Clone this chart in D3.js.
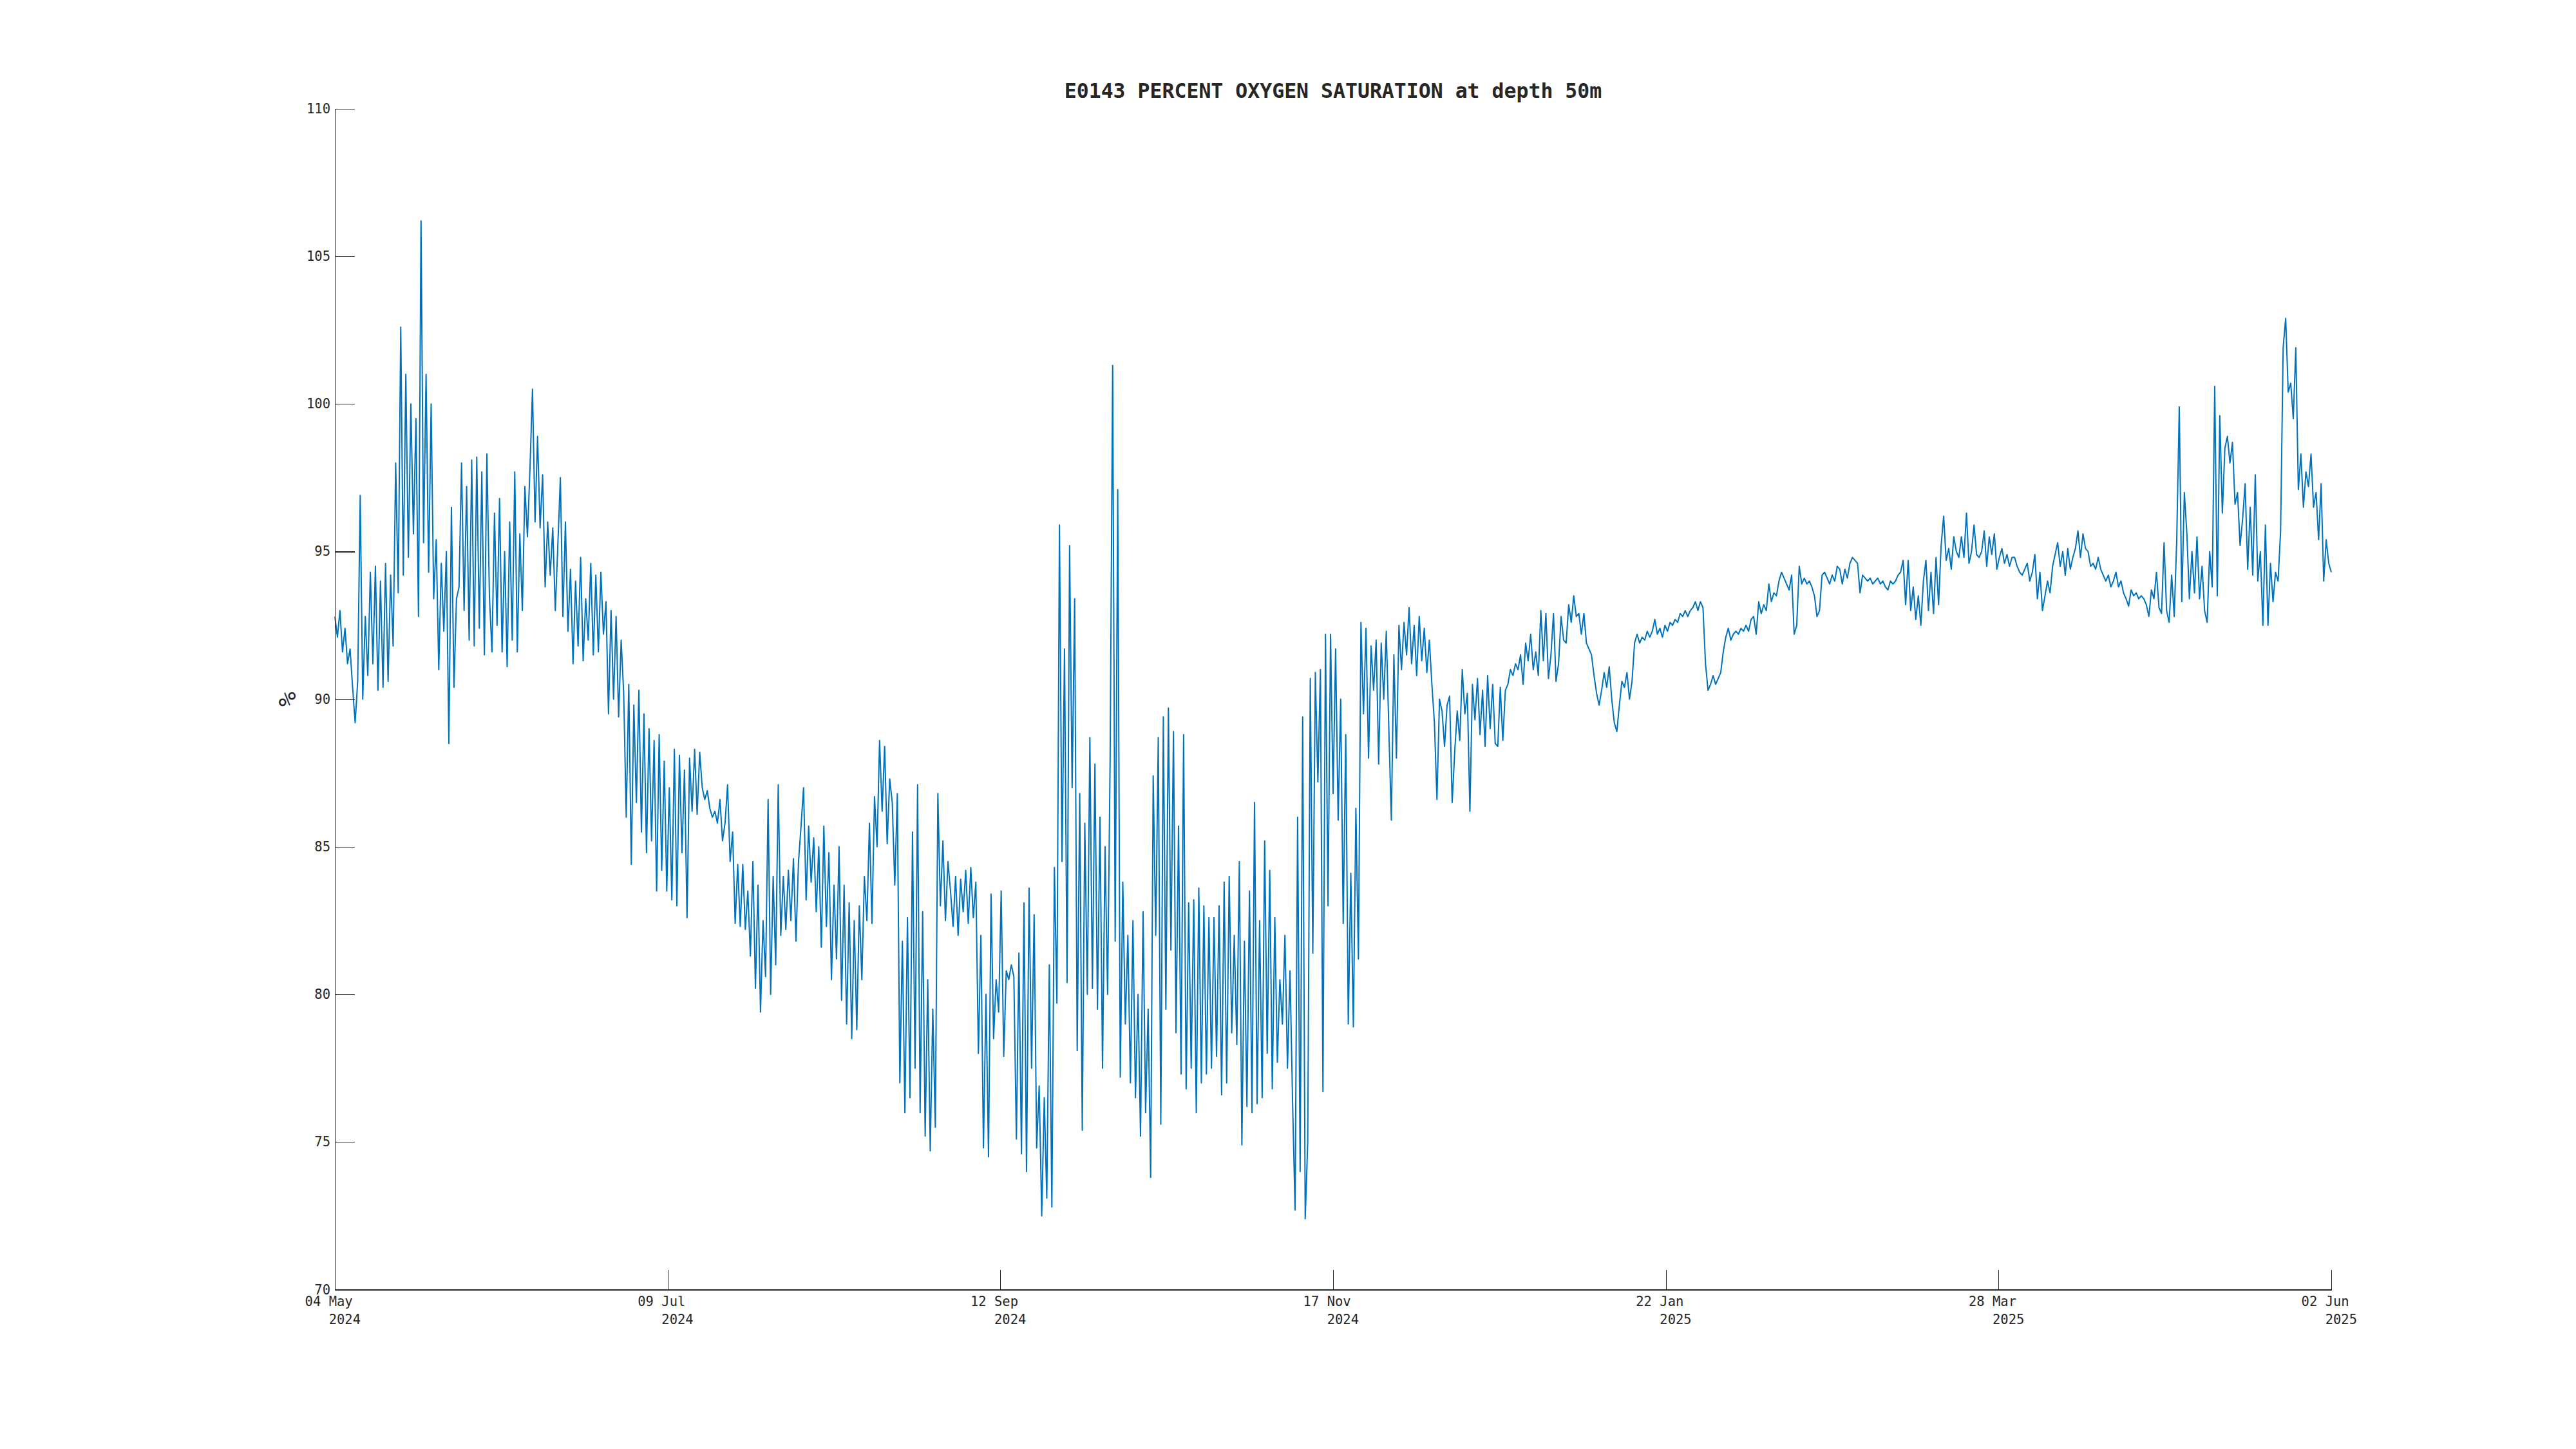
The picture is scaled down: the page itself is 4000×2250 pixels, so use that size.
<!DOCTYPE html>
<html>
<head>
<meta charset="utf-8">
<script src="https://cdn.jsdelivr.net/npm/d3@7"></script>
<style>
  html, body { margin: 0; padding: 0; background: #fff; }
  svg { display: block; }
  text { font-family: "DejaVu Sans Mono", monospace; fill: #262626; }
</style>
</head>
<body>
<div id="chart"></div>
<script>
// percent oxygen saturation, two readings a day (00:00 and 12:00 UTC)
// each array starts at the first reading of its month
const sat2024May = [
  92.8, 92.1, 93.0, 91.6, 92.4, 91.2, 91.7, 90.4, 89.2, 90.6,
  96.9, 90.0, 92.8, 90.8, 94.3, 91.2, 94.5, 90.3, 94.0, 90.4,
  94.6, 90.6, 94.2, 91.8, 98.0, 93.6, 102.6, 94.2, 101.0, 94.8,
  100.0, 95.6, 99.5, 92.8, 106.2, 95.3, 101.0, 94.3, 100.0, 93.4,
  95.4, 91.0, 94.6, 92.3, 95.0, 88.5, 96.5, 90.4, 93.4, 93.8,
  98.0, 93.0, 97.2, 92.0, 98.1];
const sat2024Jun = [
  91.8, 98.2, 92.4, 97.7, 91.5, 98.3, 93.5, 91.6, 96.3, 92.5,
  96.8, 91.6, 95.0, 91.1, 96.0, 92.0, 97.7, 91.6, 95.6, 93.0,
  97.2, 95.5, 97.8, 100.5, 96.0, 98.9, 95.8, 97.6, 93.8, 96.0,
  94.2, 95.8, 93.0, 95.2, 97.5, 92.8, 96.0, 92.3, 94.4, 91.2,
  94.0, 91.8, 94.8, 91.3, 93.4, 92.0, 94.6, 91.5, 94.2, 91.6,
  94.3, 92.2, 93.3, 89.5, 93.0, 90.0, 92.8, 89.4, 92.0, 90.2];
const sat2024Jul = [
  86.0, 90.5, 84.4, 89.8, 86.5, 90.3, 85.5, 89.5, 84.8, 89.0,
  85.2, 88.6, 83.5, 88.8, 84.2, 87.9, 83.5, 87.0, 83.2, 88.3,
  83.0, 88.1, 84.8, 87.6, 82.6, 88.0, 86.2, 88.3, 86.1, 88.2,
  87.0, 86.6, 86.9, 86.3, 86.0, 86.2, 85.8, 86.6, 85.2, 85.8,
  87.1, 84.5, 85.5, 82.4, 84.4, 82.3, 84.4, 82.2, 83.5, 81.3,
  84.5, 80.2, 83.7, 79.4, 82.5, 80.6, 86.6, 80.0, 84.0, 81.0,
  87.1, 82.0];
const sat2024Aug = [
  84.0, 82.2, 84.2, 82.5, 84.6, 81.8, 84.5, 85.7, 87.0, 83.2,
  85.7, 83.8, 85.3, 82.8, 85.0, 81.6, 85.7, 82.3, 84.8, 80.5,
  83.7, 81.2, 85.0, 79.8, 83.7, 79.0, 83.1, 78.5, 82.5, 78.8,
  83.0, 80.5, 84.0, 82.5, 85.8, 82.4, 86.7, 85.0, 88.6, 86.2,
  88.4, 85.1, 87.3, 86.5, 83.7, 86.8, 77.0, 81.8, 76.0, 82.6,
  76.5, 85.5, 77.5, 87.1, 76.0, 82.8, 75.2, 80.5, 74.7, 79.5,
  75.5, 86.8];
const sat2024Sep = [
  83.0, 85.2, 82.5, 84.5, 83.5, 82.3, 84.0, 82.0, 83.9, 82.8,
  84.2, 82.4, 84.3, 82.6, 83.8, 78.0, 82.0, 74.8, 80.0, 74.5,
  83.4, 78.5, 80.5, 79.4, 83.5, 77.9, 80.8, 80.5, 81.0, 80.6,
  75.1, 81.4, 74.6, 83.1, 74.0, 83.6, 77.5, 82.7, 74.8, 76.9,
  72.5, 76.5, 73.1, 81.0, 72.8, 84.3, 79.7, 95.9, 84.5, 91.7,
  80.4, 95.2, 87.0, 93.4, 78.1, 86.8, 75.4, 85.8, 80.0, 88.7];
const sat2024Oct = [
  80.2, 87.8, 79.5, 86.0, 77.5, 85.0, 80.0, 88.0, 101.3, 81.8,
  97.1, 77.2, 83.8, 79.0, 82.0, 77.0, 82.5, 76.5, 80.0, 75.2,
  82.8, 76.0, 79.5, 73.8, 87.4, 82.0, 88.7, 75.6, 89.4, 79.5,
  89.7, 81.5, 88.9, 78.7, 85.7, 77.3, 88.8, 76.8, 83.1, 77.5,
  83.2, 76.0, 83.6, 77.0, 83.0, 77.3, 82.6, 77.5, 82.6, 77.9,
  83.0, 76.6, 83.8, 77.0, 84.0, 78.7, 82.0, 78.3, 84.5, 74.9,
  81.8, 76.2];
const sat2024Nov = [
  83.5, 76.0, 86.5, 76.3, 82.5, 76.5, 85.2, 78.0, 84.2, 76.8,
  82.6, 77.7, 80.5, 79.0, 82.0, 77.5, 80.8, 76.4, 72.7, 86.0,
  74.0, 89.4, 72.4, 75.0, 90.7, 81.4, 90.9, 87.2, 91.0, 76.7,
  92.2, 83.0, 92.2, 86.8, 91.7, 85.9, 90.0, 82.4, 88.8, 79.0,
  84.1, 78.9, 86.3, 81.2, 92.6, 89.5, 92.4, 88.0, 91.8, 90.3,
  92.0, 87.8, 91.9, 90.0, 92.3, 89.0, 85.9, 91.5, 88.0, 92.5];
const sat2024Dec = [
  91.0, 92.6, 91.5, 93.1, 91.2, 92.5, 90.8, 92.8, 91.3, 92.4,
  90.9, 92.0, 90.5, 89.2, 86.6, 90.0, 89.6, 88.4, 89.8, 90.1,
  86.5, 88.2, 89.6, 88.6, 91.0, 89.5, 90.2, 86.2, 90.5, 89.3,
  90.7, 88.8, 90.3, 88.4, 90.8, 89.0, 90.5, 88.5, 88.4, 90.4,
  88.6, 90.3, 90.5, 91.0, 90.8, 91.2, 91.0, 91.5, 90.5, 91.9,
  91.3, 92.2, 91.0, 91.6, 90.8, 93.0, 91.3, 92.9, 90.7, 91.5,
  92.9, 90.6];
const sat2025Jan = [
  91.2, 92.8, 92.0, 91.9, 93.2, 92.6, 93.5, 92.8, 92.9, 92.2,
  92.9, 91.9, 91.7, 91.5, 90.8, 90.2, 89.8, 90.3, 90.9, 90.4,
  91.1, 90.0, 89.2, 88.9, 89.8, 90.6, 90.4, 90.9, 90.0, 90.6,
  91.9, 92.2, 91.9, 92.1, 92.0, 92.3, 92.1, 92.3, 92.7, 92.2,
  92.4, 92.1, 92.5, 92.3, 92.6, 92.5, 92.7, 92.6, 92.9, 92.8,
  93.0, 92.8, 93.0, 93.1, 93.3, 93.0, 93.3, 93.1, 91.2, 90.3,
  90.5, 90.8];
const sat2025Feb = [
  90.5, 90.7, 90.9, 91.6, 92.1, 92.4, 92.0, 92.2, 92.3, 92.2,
  92.4, 92.3, 92.5, 92.3, 92.7, 92.8, 92.2, 93.3, 92.9, 93.2,
  93.0, 93.9, 93.3, 93.6, 93.5, 94.0, 94.3, 94.1, 93.9, 93.7,
  94.2, 92.2, 92.5, 94.5, 93.9, 94.1, 93.9, 94.0, 93.8, 93.5,
  92.8, 93.0, 94.2, 94.3, 94.1, 93.9, 94.2, 94.0, 94.5, 94.4,
  93.9, 94.4, 94.1, 94.6, 94.8, 94.7];
const sat2025Mar = [
  94.6, 93.6, 94.2, 94.1, 94.0, 94.1, 93.9, 94.0, 94.1, 93.9,
  94.0, 93.8, 93.7, 94.0, 93.9, 94.0, 94.2, 94.3, 94.7, 93.2,
  94.7, 93.0, 93.8, 92.7, 93.5, 92.5, 94.0, 94.7, 93.0, 94.3,
  92.9, 94.8, 93.2, 95.2, 96.2, 94.7, 95.1, 94.4, 95.5, 95.0,
  94.8, 95.5, 94.8, 96.3, 94.6, 95.0, 95.9, 94.9, 94.8, 95.0,
  95.7, 94.5, 95.5, 94.9, 95.6, 94.4, 94.8, 95.1, 94.6, 94.9,
  94.5, 94.8];
const sat2025Apr = [
  94.8, 94.5, 94.3, 94.2, 94.4, 94.6, 94.0, 94.3, 94.9, 93.4,
  94.3, 93.0, 93.5, 94.0, 93.6, 94.5, 94.9, 95.3, 94.5, 95.0,
  94.2, 95.1, 94.4, 94.8, 95.1, 95.7, 94.8, 95.6, 95.1, 95.0,
  94.5, 94.6, 94.4, 94.8, 94.4, 94.2, 94.0, 94.2, 93.8, 94.0,
  94.3, 93.8, 94.0, 93.6, 93.4, 93.15, 93.7, 93.5, 93.6, 93.4,
  93.5, 93.4, 93.2, 92.8, 93.7, 93.4, 94.3, 93.1, 92.9, 95.3];
const sat2025May = [
  93.0, 92.6, 94.2, 92.8, 95.4, 99.9, 93.3, 97.0, 95.6, 93.4,
  95.0, 93.6, 95.5, 93.4, 94.5, 93.0, 92.6, 95.0, 93.8, 100.6,
  93.5, 99.6, 96.3, 98.5, 98.9, 98.0, 98.7, 96.6, 97.0, 95.2,
  96.1, 97.3, 94.4, 96.5, 94.2, 97.6, 94.0, 95.0, 92.5, 95.9,
  92.5, 94.6, 93.3, 94.3, 94.0, 95.7, 101.9, 102.9, 100.4, 100.7,
  99.5, 101.9, 97.1, 98.3, 96.5, 97.7, 97.2, 98.3, 96.5, 97.0,
  95.4, 97.3];
const sat2025Jun = [94.0, 95.4, 94.6, 94.3];

const monthStarts = [
  "2024-05-04T12:00Z", "2024-06-01T00:00Z", "2024-07-01T00:00Z", "2024-08-01T00:00Z",
  "2024-09-01T00:00Z", "2024-10-01T00:00Z", "2024-11-01T00:00Z", "2024-12-01T00:00Z",
  "2025-01-01T00:00Z", "2025-02-01T00:00Z", "2025-03-01T00:00Z", "2025-04-01T00:00Z",
  "2025-05-01T00:00Z", "2025-06-01T00:00Z"];
const monthValues = [
  sat2024May, sat2024Jun, sat2024Jul, sat2024Aug, sat2024Sep, sat2024Oct, sat2024Nov,
  sat2024Dec, sat2025Jan, sat2025Feb, sat2025Mar, sat2025Apr, sat2025May, sat2025Jun];

const yTicks = [70, 75, 80, 85, 90, 95, 100, 105, 110];
const xTickCount = 7;
const titleText = "E0143 PERCENT OXYGEN SATURATION at depth 50m";
const yLabelText = "%";

const width = 4000;
const height = 2250;
const margin = {top: 168.75, right: 380, bottom: 247.5, left: 520};
const fontSize = 20.5;
const charW = fontSize * 0.602;

const data = monthValues.flatMap((vals, i) =>
  vals.map((v, j) => ({date: d3.utcHour.offset(new Date(monthStarts[i]), 12 * j), value: v})));

const svg = d3.select("#chart")
  .append("svg")
  .attr("width", width)
  .attr("height", height)
  .attr("viewBox", `0 0 ${width} ${height}`);

svg.append("rect").attr("width", width).attr("height", height).attr("fill", "#fff");

const x = d3.scaleUtc()
  .domain(d3.extent(data, d => d.date))
  .range([margin.left, width - margin.right]);

const y = d3.scaleLinear()
  .domain([70, 110])
  .range([height - margin.bottom, margin.top]);

// matlab style: evenly spaced ticks across the data range
const [d0, d1] = x.domain();
const xTicks = d3.range(xTickCount).map(k => new Date(+d0 + k * (d1 - d0) / (xTickCount - 1)));

svg.append("path")
  .datum(data)
  .attr("fill", "none")
  .attr("stroke", "#0072BD")
  .attr("stroke-width", 2)
  .attr("stroke-linejoin", "round")
  .attr("d", d3.line().x(d => x(d.date)).y(d => y(d.value)));

const yAxis = svg.append("g")
  .attr("transform", `translate(${margin.left},0)`)
  .call(d3.axisLeft(y).tickValues(yTicks).tickSizeInner(-31).tickSizeOuter(0).tickPadding(7));

const xAxis = svg.append("g")
  .attr("transform", `translate(0,${height - margin.bottom})`)
  .call(d3.axisBottom(x).tickValues(xTicks).tickSizeInner(-31).tickSizeOuter(0).tickFormat(""));

[yAxis, xAxis].forEach(g => {
  g.selectAll("path, line").attr("stroke", "#262626").attr("stroke-width", 1.2).attr("shape-rendering", "crispEdges");
  g.selectAll("text").attr("font-family", "DejaVu Sans Mono").attr("font-size", fontSize).attr("fill", "#262626");
});

const dayMonth = d3.utcFormat("%d %b");
const year = d3.utcFormat("%Y");
xAxis.selectAll(".tick").each(function(d) {
  const t = d3.select(this);
  t.append("text")
    .attr("x", -3.8 * charW).attr("y", 25)
    .attr("text-anchor", "start")
    .attr("font-size", fontSize)
    .text(dayMonth(d));
  t.append("text")
    .attr("x", -0.8 * charW).attr("y", 53)
    .attr("text-anchor", "start")
    .attr("font-size", fontSize)
    .text(year(d));
});

svg.append("text")
  .attr("x", (margin.left + width - margin.right) / 2)
  .attr("y", 152)
  .attr("text-anchor", "middle")
  .attr("font-size", 31.5)
  .attr("font-weight", "bold")
  .attr("fill", "#000")
  .text(titleText);

svg.append("text")
  .attr("transform", `translate(446,${(margin.top + height - margin.bottom) / 2}) rotate(-90)`)
  .attr("text-anchor", "middle")
  .attr("dominant-baseline", "central")
  .attr("font-size", 38)
  .text(yLabelText);
</script>
</body>
</html>
